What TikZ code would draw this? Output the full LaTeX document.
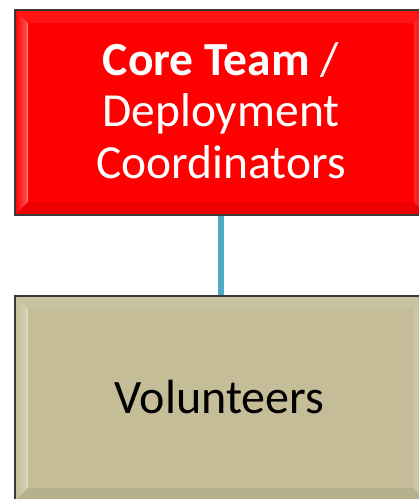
\documentclass[tikz,border=0pt]{standalone}
\usepackage{fontspec}
\setmainfont{Carlito}
\definecolor{corered}{HTML}{FF0000}
\definecolor{voltan}{HTML}{C4BD97}
\definecolor{linkteal}{HTML}{4BACC6}
\definecolor{boxborder}{HTML}{3A3A3A}
\tikzset{
  orgbox/.style={rectangle, minimum width=412pt, minimum height=205pt, inner sep=0pt, outer sep=0pt, align=center},
  edgeline/.style={draw=boxborder, line width=1.6pt},
  connector/.style={draw=linkteal, line width=6.5pt},
}
\newcommand\bevelbox[2]{%
  \fill[#2!92!white] (#1.north west) -- (#1.north east) -- ([shift={(-13pt,-13pt)}]#1.north east) -- ([shift={(13pt,-13pt)}]#1.north west) -- cycle;
  \shade[left color=#2, right color=#2!65!white] (#1.north west) -- ([shift={(13pt,-13pt)}]#1.north west) -- ([shift={(13pt,13pt)}]#1.south west) -- (#1.south west) -- cycle;
  \fill[#2!93!black] (#1.south west) -- ([shift={(13pt,13pt)}]#1.south west) -- ([shift={(-13pt,13pt)}]#1.south east) -- (#1.south east) -- cycle;
  \shade[left color=#2!85!white, right color=#2] (#1.north east) -- ([shift={(-13pt,-13pt)}]#1.north east) -- ([shift={(-13pt,13pt)}]#1.south east) -- (#1.south east) -- cycle;
  \draw[#2!50!white, line width=0.8pt] ([shift={(12pt,-13pt)}]#1.north west) -- ([shift={(12pt,13pt)}]#1.south west);
  \draw[edgeline] (#1.north west) rectangle (#1.south east);
}
\begin{document}
\begin{tikzpicture}[x=1pt,y=1pt]
  \useasboundingbox (0,0) rectangle (419,-499);
  \node[orgbox, fill=corered] (core) at (221,-112.5) {};
  \node[orgbox, fill=voltan] (vol) at (221,-398.5) {};
  \draw[connector] (core.south) -- (vol.north);
  \bevelbox{core}{corered}
  \bevelbox{vol}{voltan}
  \node[text=white, font=\fontsize{47.5pt}{51.5pt}\selectfont, align=center, anchor=base] (coretext) at (221,-178)
    {\textbf{Core Team} /\\Deployment\\Coordinators};
  \node[text=black, font=\fontsize{48pt}{52pt}\selectfont, anchor=base] (voltext) at (219.5,-413) {Volunteers};
\end{tikzpicture}
\end{document}
